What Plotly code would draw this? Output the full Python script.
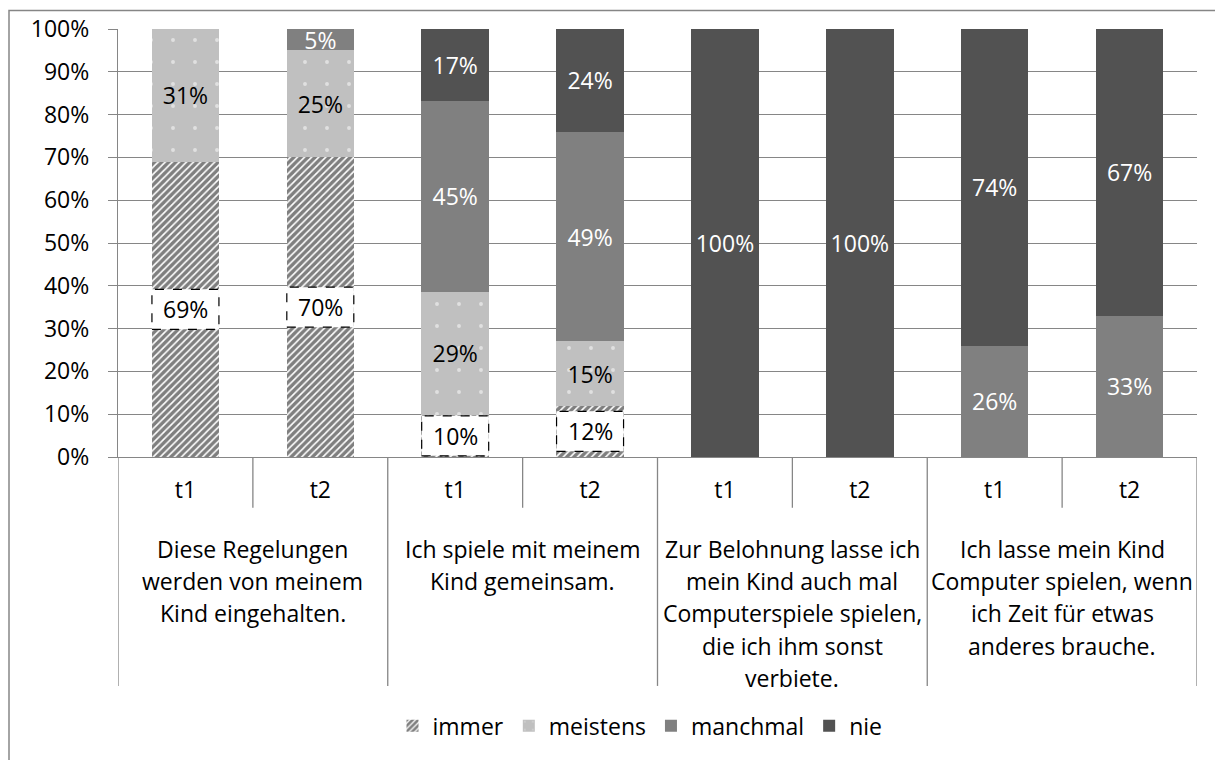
import plotly.graph_objects as go

# Survey statements (group labels), measurement points and answer categories
groups = [
    "Diese Regelungen\nwerden von meinem\nKind eingehalten.",
    "Ich spiele mit meinem\nKind gemeinsam.",
    "Zur Belohnung lasse ich\nmein Kind auch mal\nComputerspiele spielen,\ndie ich ihm sonst\nverbiete.",
    "Ich lasse mein Kind\nComputer spielen, wenn\nich Zeit für etwas\nanderes brauche.",
]
times = ["t1", "t2"]
series = ["immer", "meistens", "manchmal", "nie"]

# Percent values per bar (order: group1 t1, group1 t2, group2 t1, ...)
immer = [69, 70, 10, 12, 0, 0, 0, 0]
meistens = [31, 25, 29, 15, 0, 0, 0, 0]
manchmal = [0, 5, 45, 49, 0, 0, 26, 33]
nie = [0, 0, 17, 24, 100, 100, 74, 67]

values = {"immer": immer, "meistens": meistens, "manchmal": manchmal, "nie": nie}

y_ticks = [0, 10, 20, 30, 40, 50, 60, 70, 80, 90, 100]

# ---- styling ----
FONT = "Open Sans"
FS = 23
GRID = "#868686"
W, H = 1215, 760
L, R, T, B = 118, W - 1197, 27, H - 457

cats = [f"{g}|{t}" for g in groups for t in times]
ticktext = [t for g in groups for t in times]
n = len(cats)


def py(p):
    """pixel row -> paper y"""
    return (H - B - p) / (H - T - B)


def px(p):
    """pixel column -> paper x"""
    return (p - L) / (W - L - R)


styles = {
    "immer": dict(color="white", pattern=dict(shape="/", fgcolor="black", bgcolor="white",
                                              size=5, solidity=0.68, fillmode="overlay")),
    "meistens": dict(color="#c0c0c0", pattern=dict(shape=".", fgcolor="white", bgcolor="#c0c0c0",
                                                   size=22, solidity=0.025, fillmode="overlay")),
    "manchmal": dict(color="#808080"),
    "nie": dict(color="#525252"),
}
txtcol = {"immer": "black", "meistens": "black", "manchmal": "white", "nie": "white"}

fig = go.Figure()
for s in series:
    vals = values[s]
    show_text = s != "immer"
    fig.add_trace(go.Bar(
        name=s,
        x=cats,
        y=vals,
        text=[f"{v}%" if (v and show_text) else "" for v in vals],
        textposition="inside",
        insidetextanchor="middle",
        textangle=0,
        constraintext="none",
        textfont=dict(family=FONT, size=FS, color=txtcol[s]),
        marker=dict(line=dict(width=0), **styles[s]),
        hoverinfo="skip",
    ))

shapes = []
annotations = []

# Labels of the "immer" segments: white box with dashed frame, centred in the segment
for i, c in enumerate(cats):
    total = sum(values[s][i] for s in series)
    v = immer[i]
    if v:
        yc = v / total * 100 / 2
        shapes.append(dict(type="rect", xref="x", yref="y", xsizemode="pixel", ysizemode="pixel",
                           xanchor=c, yanchor=yc, x0=-33.5, x1=33.5, y0=-20, y1=20,
                           fillcolor="white", line=dict(color="black", width=1.2, dash="dash"),
                           layer="above"))
        annotations.append(dict(x=c, y=yc, xref="x", yref="y", text=f"{v}%", showarrow=False,
                                font=dict(family=FONT, size=FS, color="black")))

# Category axis dividers
for k in range(n + 1):
    is_group = k % 2 == 0
    shapes.append(dict(type="line", xref="x", yref="paper", x0=k - 0.5, x1=k - 0.5,
                       y0=0, y1=py(687 if is_group else 508),
                       line=dict(color=GRID, width=1.3), layer="below"))

# Group labels (multi-line, centred under each pair of bars)
LINE = 32.5
for gi, g in enumerate(groups):
    for li, line in enumerate(g.split("\n")):
        annotations.append(dict(x=gi * 2 + 0.5, xref="x", yref="paper",
                                y=py(549 + li * LINE), yanchor="middle", text=line,
                                showarrow=False, font=dict(family=FONT, size=FS, color="black")))

# Outer chart frame
shapes.append(dict(type="rect", xref="paper", yref="paper", x0=px(9), x1=px(1240),
                   y0=py(790), y1=py(8.5), line=dict(color=GRID, width=1.5),
                   fillcolor="rgba(0,0,0,0)", layer="below"))

fig.update_layout(
    width=W, height=H,
    margin=dict(l=L, r=R, t=T, b=B, pad=0),
    barmode="stack",
    barnorm="percent",
    bargap=0.5,
    plot_bgcolor="white",
    paper_bgcolor="white",
    font=dict(family=FONT, size=FS, color="black"),
    shapes=shapes,
    annotations=annotations,
    legend=dict(orientation="h", xanchor="center", x=px(640), yanchor="middle", y=py(727),
                font=dict(family=FONT, size=FS, color="black"), itemwidth=30,
                traceorder="normal", bgcolor="rgba(0,0,0,0)"),
    uniformtext=dict(mode="show", minsize=FS),
    showlegend=True,
)

fig.update_xaxes(
    type="category",
    categoryorder="array", categoryarray=cats,
    tickmode="array", tickvals=cats, ticktext=ticktext,
    range=[-0.5, n - 0.5],
    showline=True, linecolor=GRID, linewidth=1.3,
    showgrid=False, ticks="", ticklabelstandoff=12,
    tickfont=dict(family=FONT, size=FS, color="black"),
)
fig.update_yaxes(
    range=[0, 100],
    tickmode="array", tickvals=y_ticks, ticktext=[f"{v}%" for v in y_ticks],
    showline=True, linecolor=GRID, linewidth=1.3,
    showgrid=True, gridcolor=GRID, gridwidth=1.3,
    ticks="outside", ticklen=9, tickcolor=GRID, tickwidth=1.3,
    ticklabelstandoff=14,
    tickfont=dict(family=FONT, size=FS, color="black"),
    zeroline=False,
)

fig.write_html("out.html")
